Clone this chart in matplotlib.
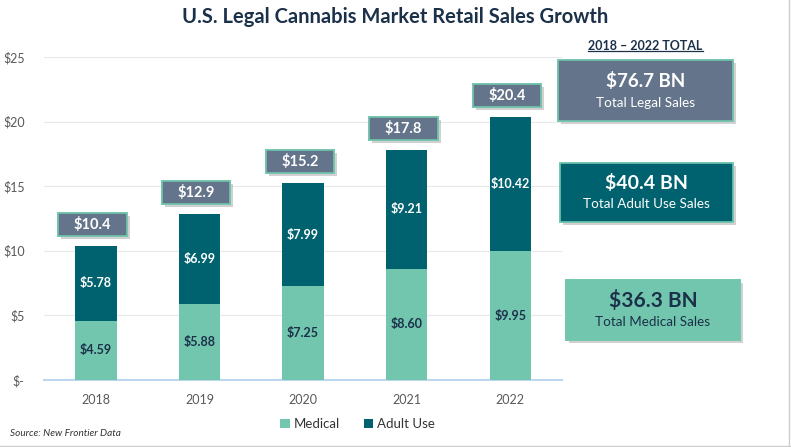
import numpy as np
import matplotlib
matplotlib.use("Agg")
from matplotlib import pyplot as plt
from matplotlib.patches import Rectangle
import matplotlib.patheffects as pe

years = ["2018", "2019", "2020", "2021", "2022"]
medical = [4.59, 5.88, 7.25, 8.60, 9.95]
adult_use = [5.78, 6.99, 7.99, 9.21, 10.42]
totals = [10.4, 12.9, 15.2, 17.8, 20.4]
y_ticks = [0, 5, 10, 15, 20, 25]
y_tick_labels = ["$-", "$5", "$10", "$15", "$20", "$25"]

summary = [
    ("$76.7 BN", "Total Legal Sales"),
    ("$40.4 BN", "Total Adult Use Sales"),
    ("$36.3 BN", "Total Medical Sales"),
]

c_med = "#72C6AE"
c_adult = "#00626F"
c_grey = "#64748A"
c_navy = "#1B3049"
c_tick = "#595959"

plt.rcParams['font.family'] = ['Lato', 'DejaVu Sans']

fig = plt.figure(figsize=(7.91, 4.47), dpi=100)
ax = fig.add_axes([0.0556, 0.150, 0.655, 0.7226])

x = np.arange(len(years))
w = 0.4
ax.bar(x, medical, w, color=c_med, label="Medical", zorder=3)
ax.bar(x, adult_use, w, bottom=medical, color=c_adult, label="Adult Use", zorder=3)

shadow = [pe.withSimplePatchShadow(offset=(2, -2), shadow_rgbFace="#999999", alpha=0.45), pe.Normal()]

for i in range(len(years)):
    ax.text(x[i], medical[i] / 2, f"${medical[i]:.2f}", ha="center", va="center",
            color=c_navy, fontsize=9, fontweight="bold", zorder=4)
    ax.text(x[i], medical[i] + adult_use[i] / 2, f"${adult_use[i]:.2f}", ha="center", va="center",
            color="white", fontsize=9, fontweight="bold", zorder=4)
    top = medical[i] + adult_use[i]
    r = Rectangle((x[i] - 0.36, top + 0.75), 0.66, 1.8, facecolor=c_grey,
                  edgecolor=c_med, linewidth=1.2, zorder=4, clip_on=False)
    r.set_path_effects(shadow)
    ax.add_patch(r)
    ax.text(x[i] - 0.03, top + 1.65, f"${totals[i]}", ha="center", va="center",
            color="white", fontsize=10.5, fontweight="bold", zorder=5)

ax.set_xlim(-0.5, 4.5)
ax.set_ylim(0, 25)
ax.set_xticks(x)
ax.set_xticklabels(years, color=c_tick, fontsize=9)
ax.set_yticks(y_ticks)
ax.set_yticklabels(y_tick_labels, color=c_tick, fontsize=9)
ax.tick_params(length=0, pad=10)
ax.tick_params(axis="y", pad=14)
ax.grid(axis="y", color="#E8E8E8", linewidth=0.8, zorder=0)
for s in ["top", "right", "left"]:
    ax.spines[s].set_visible(False)
ax.spines["bottom"].set_color("#BDD7EE")
ax.spines["bottom"].set_linewidth(1.5)

leg = fig.legend(loc="center", bbox_to_anchor=(0.452, 0.052), ncol=2, frameon=False,
                 fontsize=9.5, handlelength=0.7, handleheight=0.7, handletextpad=0.3,
                 columnspacing=1.8, labelcolor="#333333")

fig.text(0.5, 0.962, "U.S. Legal Cannabis Market Retail Sales Growth", ha="center", va="center",
         fontsize=14.5, fontweight="bold", color=c_navy)
fig.text(0.013, 0.031, "Source: New Frontier Data", ha="left", va="center",
         fontsize=7.2, style="italic", color="#333333")

t = fig.text(0.816, 0.897, "2018 \u2013 2022 TOTAL", ha="center", va="center",
             fontsize=9, fontweight="bold", color=c_navy)
fig.canvas.draw()
bb = t.get_window_extent().transformed(fig.transFigure.inverted())
fig.add_artist(plt.Line2D([bb.x0, bb.x1], [bb.y0 + 0.002, bb.y0 + 0.002], color=c_navy,
                          linewidth=0.9, transform=fig.transFigure))

boxes = [
    (0.7054, 0.7293, 0.2212, 0.1365, c_grey, "white", 13.5),
    (0.7080, 0.5034, 0.2187, 0.1320, c_adult, "white", 14),
    (0.7155, 0.2394, 0.2200, 0.1342, c_med, c_navy, 15),
]
for (bx, by, bw, bh, fc, tc, fs), (big, small) in zip(boxes, summary):
    r = Rectangle((bx, by), bw, bh, facecolor=fc, edgecolor=c_med, linewidth=1.2,
                  transform=fig.transFigure)
    r.set_path_effects(shadow)
    fig.add_artist(r)
    fig.text(bx + bw / 2, by + bh * 0.66, big, ha="center", va="center",
             fontsize=fs, fontweight="bold", color=tc)
    fig.text(bx + bw / 2, by + bh * 0.30, small, ha="center", va="center",
             fontsize=9.7, color=tc)

# thin frame on right and bottom
fig.add_artist(plt.Line2D([0, 1], [0.002, 0.002], color="#CCCCCC", linewidth=1, transform=fig.transFigure))
fig.add_artist(plt.Line2D([0.998, 0.998], [0, 1], color="#CCCCCC", linewidth=1, transform=fig.transFigure))

fig.savefig("out.png", dpi=100)
